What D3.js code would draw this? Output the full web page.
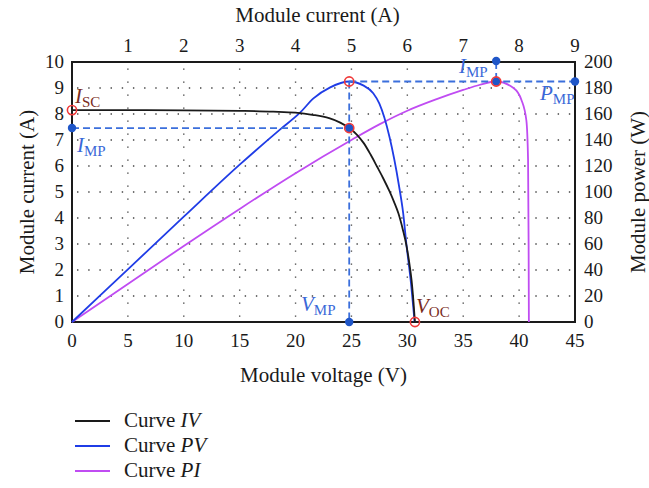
<!DOCTYPE html>
<html><head><meta charset="utf-8">
<script src="https://cdn.jsdelivr.net/npm/d3@7"></script>
<style>
body{margin:0;background:#fff;}
svg text{font-family:"Liberation Serif","DejaVu Serif",serif;fill:#1a1a1a;}
</style></head>
<body><svg id="c" width="649" height="488"></svg>
<script>
// ---- data ----
const bottomTicks = [0,5,10,15,20,25,30,35,40,45];
const topTicks = [1,2,3,4,5,6,7,8,9];
const leftTicks = [0,1,2,3,4,5,6,7,8,9,10];
const rightTicks = [0,20,40,60,80,100,120,140,160,180,200];

// Curve IV : voltage (V) -> current (A)
const ivVoltage = [0,5,10,15,18,20,21.5,23,24,24.8,25.5,26.1,26.7,27.3,27.85,28.4,28.8,29.2,29.6,29.94,30.2,30.38,30.55,30.68];
const ivCurrent = [8.15,8.15,8.14,8.12,8.09,8.05,7.97,7.84,7.67,7.46,7.2,6.88,6.45,5.97,5.52,5.03,4.63,4.18,3.55,2.9,2.2,1.6,0.78,0];

// Curve PV : voltage (V) -> power (W)
const pvVoltage = [0,5,10,15,18.6,20.4,21.6,23.1,24.8,26.05,26.95,27.5,28.4,29.25,29.63,29.94,30.3,30.65];
const pvPower = [0,40.5,81,121,148,161,172,180.5,185,182,176,168,142.5,105,83.6,58,32,0];

// Curve PI : current (A) -> power (W)
const piCurrent = [0,1,2,3,4,5,5.5,6,6.5,7,7.3,7.59,7.9,8.04,8.13,8.16,8.17,8.175];
const piPower = [0,29.3,58.5,87,114.5,140,152,162.5,171,178.5,182.5,185,180,171,155,125,60,0];

// key points
const Isc = 8.15, Voc = 30.68, Vmp = 24.8, Imp = 7.46, Pmp = 185, ImpPI = 7.59;

const legendNames = ["IV","PV","PI"];
const legendColors = ["#1a1a1a","#1f3ce6","#c04cf2"];

// ---- chart ----
const svg = d3.select("#c");
const L=72,R=575,T=62,B=322;
const x = d3.scaleLinear().domain([0,45]).range([L,R]);
const xTop = d3.scaleLinear().domain([0,9]).range([L,R]);
const y = d3.scaleLinear().domain([0,10]).range([B,T]);
const yP = d3.scaleLinear().domain([0,200]).range([B,T]);

// dotted grid
const g = svg.append("g");
const dx = x(1)-x(0), dy = y(0)-y(0.5);
g.selectAll(".hg").data(d3.range(1,10)).join("line")
  .attr("x1",L).attr("x2",R).attr("y1",d=>y(d)).attr("y2",d=>y(d))
  .attr("stroke","#444").attr("stroke-width",1.4)
  .attr("stroke-dasharray",`1.4,${dx-1.4}`).attr("stroke-dashoffset",-(dx*1.45));
g.selectAll(".vg").data(d3.range(5,45,5)).join("line")
  .attr("x1",d=>x(d)).attr("x2",d=>x(d)).attr("y1",B).attr("y2",T)
  .attr("stroke","#444").attr("stroke-width",1.4)
  .attr("stroke-dasharray",`1.4,${dy-1.4}`).attr("stroke-dashoffset",-(dy*0.4));

// frame
svg.append("rect").attr("x",L).attr("y",T).attr("width",R-L).attr("height",B-T)
  .attr("fill","none").attr("stroke","#1a1a1a").attr("stroke-width",2);

// tick labels
const fs = 19, ft = 21;
svg.append("g").selectAll("text").data(bottomTicks).join("text")
  .attr("x",d=>x(d)).attr("y",B+25).attr("text-anchor","middle").attr("font-size",fs).text(d=>d);
svg.append("g").selectAll("text").data(topTicks).join("text")
  .attr("x",d=>xTop(d)).attr("y",T-10).attr("text-anchor","middle").attr("font-size",fs).text(d=>d);
svg.append("g").selectAll("text").data(leftTicks).join("text")
  .attr("x",L-8).attr("y",d=>y(d)+6).attr("text-anchor","end").attr("font-size",fs).text(d=>d);
svg.append("g").selectAll("text").data(rightTicks).join("text")
  .attr("x",R+9).attr("y",d=>yP(d)+6).attr("text-anchor","start").attr("font-size",fs).text(d=>d);

// axis titles
svg.append("text").attr("x",(L+R)/2).attr("y",B+60).attr("text-anchor","middle").attr("font-size",ft).text("Module voltage (V)");
svg.append("text").attr("x",(L+R)/2-6).attr("y",22).attr("text-anchor","middle").attr("font-size",ft).text("Module current (A)");
svg.append("text").attr("transform",`translate(34,${(T+B)/2}) rotate(-90)`).attr("text-anchor","middle").attr("font-size",ft).text("Module current (A)");
svg.append("text").attr("transform",`translate(645,${(T+B)/2}) rotate(-90)`).attr("text-anchor","middle").attr("font-size",ft).text("Module power (W)");

// curves
const iv = ivVoltage.map((v,i)=>[x(v),y(ivCurrent[i])]);
const pv = pvVoltage.map((v,i)=>[x(v),yP(pvPower[i])]);
const pi = piCurrent.map((c,i)=>[xTop(c),yP(piPower[i])]);
const line = d3.line().curve(d3.curveMonotoneX);
svg.append("path").attr("d",line(pi)).attr("fill","none").attr("stroke",legendColors[2]).attr("stroke-width",1.8);
svg.append("path").attr("d",line(pv)).attr("fill","none").attr("stroke",legendColors[1]).attr("stroke-width",1.8);
svg.append("path").attr("d",line(iv)).attr("fill","none").attr("stroke",legendColors[0]).attr("stroke-width",1.8);

// dashed guide lines
const dashC = "#3b6fdc";
const dl = (x1,y1,x2,y2)=>svg.append("line").attr("x1",x1).attr("y1",y1).attr("x2",x2).attr("y2",y2)
  .attr("stroke",dashC).attr("stroke-width",1.8).attr("stroke-dasharray","7,4");
dl(x(0),y(Imp),x(Vmp),y(Imp));
dl(x(Vmp),yP(Pmp),x(Vmp),B);
dl(x(Vmp),yP(Pmp),R,yP(Pmp));
dl(xTop(ImpPI),T,xTop(ImpPI),yP(Pmp));

// markers
const dotC = "#1f56c8";
const dot = (cx,cy)=>svg.append("circle").attr("cx",cx).attr("cy",cy).attr("r",4.2).attr("fill",dotC);
const ring = (cx,cy)=>svg.append("circle").attr("cx",cx).attr("cy",cy).attr("r",4.6).attr("fill","none").attr("stroke","#f03a3a").attr("stroke-width",1.6);
dot(x(0),y(Imp)); dot(x(Vmp),B); dot(R,yP(Pmp)); dot(xTop(ImpPI),T-1);
dot(x(Vmp),y(Imp)); dot(xTop(ImpPI),yP(Pmp));
ring(x(0),y(Isc)); ring(x(Vmp),yP(Pmp)); ring(x(Vmp),y(Imp)); ring(x(Voc),B); ring(xTop(ImpPI),yP(Pmp));

// labels with subscripts
function lab(px,py,main,sub,color){
  const t = svg.append("text").attr("x",px).attr("y",py).attr("font-size",21).style("fill",color);
  t.append("tspan").attr("font-style","italic").text(main);
  t.append("tspan").attr("font-size",15).attr("dy",4).text(sub);
}
const brown = "#7a2c1c", lblue = "#3a68d8";
lab(75,103,"I","SC",brown);
lab(77,152,"I","MP",lblue);
lab(301,311,"V","MP",lblue);
lab(416,313,"V","OC",brown);
lab(459,73,"I","MP",lblue);
lab(540,100,"P","MP",lblue);

// legend
const lg = svg.append("g");
legendNames.forEach((n,i)=>{
  const yy = 421 + i*25;
  lg.append("line").attr("x1",75).attr("x2",110).attr("y1",yy).attr("y2",yy).attr("stroke",legendColors[i]).attr("stroke-width",1.8);
  const t = lg.append("text").attr("x",124).attr("y",yy+6).attr("font-size",ft);
  t.append("tspan").text("Curve ");
  t.append("tspan").attr("font-style","italic").text(n);
});
</script></body></html>
